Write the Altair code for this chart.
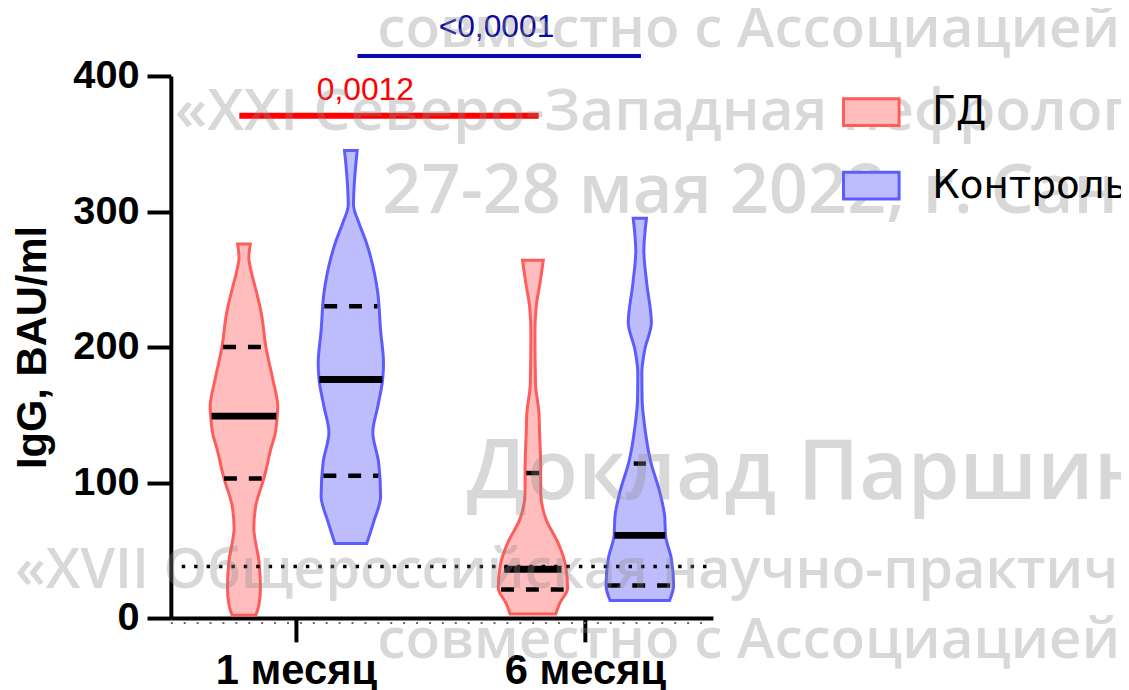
import altair as alt
import pandas as pd

# ---------------- data ----------------
MONTHS = ["1 месяц", "6 месяц"]
GROUPS = ["ГД", "Контроль"]
Y_TITLE = "IgG, BAU/ml"
Y_TICKS = [0, 100, 200, 300, 400]

# violin outlines: IgG level and half-width (in units of the spacing between months)
GD1_LEVEL = [276, 266, 255, 245, 225, 200, 176, 156, 149, 135, 127, 103, 83, 66, 55, 42, 22, 10, 2]
GD1_HALF = [.022, .017, .026, .038, .060, .076, .100, .117, .115, .107, .096, .069, .041, .034, .041, .052, .057, .052, .041]

K1_LEVEL = [345, 327, 305, 291, 278, 266, 254, 240, 212, 188, 176, 156, 137, 115, 90, 71, 55]
K1_HALF = [.022, .014, .009, .029, .052, .069, .082, .093, .103, .113, .110, .093, .076, .096, .103, .079, .055]

GD6_LEVEL = [264, 249, 229, 210, 173, 151, 137, 112, 93, 73, 56, 39, 22, 11, 3]
GD6_HALF = [.036, .026, .011, .007, .009, .021, .023, .027, .027, .045, .086, .113, .120, .093, .079]

K6_LEVEL = [295, 271, 247, 218, 198, 181, 161, 141, 115, 93, 75, 61, 44, 24, 13]
K6_HALF = [.023, .014, .024, .040, .017, .007, .008, .017, .038, .069, .086, .089, .109, .117, .103]

# medians and quartiles: [1 месяц, 6 месяц] per group, with half-width of the line
MEDIAN = {"ГД": [149, 36], "Контроль": [176, 61]}
MEDIAN_HALF = {"ГД": [.112, .099], "Контроль": [.109, .088]}
Q1 = {"ГД": [103, 21], "Контроль": [105, 24]}
Q1_HALF = {"ГД": [.069, .110], "Контроль": [.095, .112]}
Q3 = {"ГД": [200, 107], "Контроль": [230, 114]}
Q3_HALF = {"ГД": [.072, .023], "Контроль": [.092, .021]}

THRESHOLD = 38

# significance bars
P_TEXT = ["0,0012", "<0,0001"]
P_LEVEL = [370.7, 414.7]
P_FROM = [0.804, 1.213]
P_TO = [1.840, 2.194]
P_TEXT_X = [1.240, 1.694]
P_TEXT_LEVEL = [382, 429]

WATERMARK = [
    "совместно с Ассоциацией",
    "«XXI Северо-Западная нефрологическая",
    "27-28 мая 2022, г. Санкт-Петербург",
    "Доклад Паршина",
    "«XVII Общероссийская научно-практическая",
    "совместно с Ассоциацией",
]

# ---------------- styling ----------------
FILLS = ["#ffbdbd", "#bdbdfd"]
STROKES = ["#ff5c5c", "#5c5cff"]
P_COLORS = ["#ff0000", "#0a0ab4"]
P_TEXT_COLORS = ["#ff0000", "#0a0aa0"]
P_WIDTHS = [6, 4]
OFFSET = {"ГД": -0.18, "Контроль": 0.19}
X_DOMAIN = [0.567, 2.443]
W, H = 546, 546

# ---------------- tables ----------------
violins = [
    ("ГД", 0, GD1_LEVEL, GD1_HALF),
    ("Контроль", 0, K1_LEVEL, K1_HALF),
    ("ГД", 1, GD6_LEVEL, GD6_HALF),
    ("Контроль", 1, K6_LEVEL, K6_HALF),
]
rows = []
for g, m, lev, half in violins:
    c = m + 1 + OFFSET[g]
    for v, h in zip(lev, half):
        rows.append({"group": g, "vid": f"{g}-{m}", "value": v, "xl": c - h, "xr": c + h})
vdf = pd.DataFrame(rows)

srows = []
for g in GROUPS:
    for m in range(2):
        c = m + 1 + OFFSET[g]
        srows.append({"kind": "median", "value": MEDIAN[g][m], "xl": c - MEDIAN_HALF[g][m], "xr": c + MEDIAN_HALF[g][m]})
        srows.append({"kind": "q", "value": Q1[g][m], "xl": c - Q1_HALF[g][m], "xr": c + Q1_HALF[g][m]})
        srows.append({"kind": "q", "value": Q3[g][m], "xl": c - Q3_HALF[g][m], "xr": c + Q3_HALF[g][m]})
sdf = pd.DataFrame(srows)

xs = alt.Scale(domain=X_DOMAIN, nice=False, zero=False)
ys = alt.Scale(domain=[0, 400], nice=False, zero=False)

label_expr = " : ".join(
    f"datum.value == {i + 1} ? '{name}'" for i, name in enumerate(MONTHS)
) + " : ''"

x_axis = alt.Axis(
    values=[1, 2], labelExpr=label_expr, title=None, grid=False,
    domainColor="black", domainWidth=4, tickColor="black", tickWidth=4, tickSize=24,
    labelFont="Liberation Sans", labelFontWeight="bold", labelFontSize=42,
    labelColor="black", labelPadding=9, labelFlush=False, labelOverlap=False,
)
y_axis = alt.Axis(
    values=Y_TICKS, title=Y_TITLE, grid=False,
    domainColor="black", domainWidth=4, tickColor="black", tickWidth=4, tickSize=24,
    labelFont="Liberation Sans", labelFontWeight="bold", labelFontSize=40,
    labelColor="black", labelPadding=8,
    titleFont="Liberation Sans", titleFontWeight="bold", titleFontSize=42,
    titleColor="black", titlePadding=18,
)

legend = alt.Legend(
    title=None, orient="none", legendX=676, legendY=7,
    symbolType="M-1,-0.48H1V0.48H-1Z", symbolSize=3136, symbolStrokeWidth=3,
    labelFont="DejaVu Sans", labelFontSize=39, labelColor="black", labelLimit=0,
    labelOffset=32, rowPadding=24, padding=0, symbolOpacity=1,
)

violin = alt.Chart(vdf).mark_area(
    orient="horizontal", interpolate="monotone", strokeWidth=3, fillOpacity=1, strokeOpacity=1
).encode(
    y=alt.Y("value:Q", scale=ys, axis=y_axis),
    x=alt.X("xl:Q", scale=xs, axis=x_axis),
    x2="xr:Q",
    fill=alt.Fill("group:N", scale=alt.Scale(domain=GROUPS, range=FILLS), legend=legend),
    stroke=alt.Stroke("group:N", scale=alt.Scale(domain=GROUPS, range=STROKES), legend=legend),
    detail="vid:N",
)

threshold = alt.Chart(pd.DataFrame({"value": [THRESHOLD]})).mark_rule(
    color="black", strokeWidth=3.5, strokeDash=[3.5, 9]
).encode(
    y=alt.Y("value:Q", scale=ys),
    x=alt.value(11), x2=alt.value(543),
)

minor = alt.Chart(pd.DataFrame({"value": [0]})).mark_rule(
    color="#666666", strokeWidth=2, strokeDash=[2, 11], yOffset=5
).encode(
    y=alt.Y("value:Q", scale=ys),
    x=alt.value(0), x2=alt.value(W),
)

medians = alt.Chart(sdf).transform_filter("datum.kind == 'median'").mark_rule(
    color="black", strokeWidth=7
).encode(
    y=alt.Y("value:Q", scale=ys),
    x=alt.X("xl:Q", scale=xs), x2="xr:Q",
)
quart = alt.Chart(sdf).transform_filter("datum.kind == 'q'").mark_rule(
    color="black", strokeWidth=4.5, strokeDash=[13, 12]
).encode(
    y=alt.Y("value:Q", scale=ys),
    x=alt.X("xl:Q", scale=xs), x2="xr:Q",
)

sig_layers = []
for i in range(len(P_TEXT)):
    bar = alt.Chart(pd.DataFrame({"value": [P_LEVEL[i]], "xl": [P_FROM[i]], "xr": [P_TO[i]]})).mark_rule(
        color=P_COLORS[i], strokeWidth=P_WIDTHS[i]
    ).encode(
        y=alt.Y("value:Q", scale=ys),
        x=alt.X("xl:Q", scale=xs), x2="xr:Q",
    )
    txt = alt.Chart(pd.DataFrame({"value": [P_TEXT_LEVEL[i]], "xl": [P_TEXT_X[i]], "t": [P_TEXT[i]]})).mark_text(
        color=P_TEXT_COLORS[i], font="Liberation Sans", fontSize=32, baseline="alphabetic", align="center"
    ).encode(
        y=alt.Y("value:Q", scale=ys),
        x=alt.X("xl:Q", scale=xs),
        text="t:N",
    )
    sig_layers += [bar, txt]

# watermark overlay (pixel placement relative to the plot area)
WM_LAYOUT = [(208, -29, 57), (4, 54, 59), (213, 138, 69), (298, 426, 84), (-157, 516, 56), (208, 586, 57)]
wm_layers = []
for s, (px, py, fs) in zip(WATERMARK, WM_LAYOUT):
    wm_layers.append(
        alt.Chart(pd.DataFrame({"t": [s]})).mark_text(
            font="Open Sans", fontWeight=600, fontSize=fs, color="#8c8c8c", opacity=0.33,
            align="left", baseline="alphabetic"
        ).encode(x=alt.value(px), y=alt.value(py), text="t:N")
    )

chart = alt.layer(violin, threshold, minor, medians, quart, *sig_layers, *wm_layers).properties(
    width=W, height=H, background="white",
    autosize=alt.AutoSizeParams(type="none"),
    padding={"left": 164, "top": 66, "right": 411, "bottom": 70},
).configure_view(stroke=None)

chart.save("out.html", embed_options={"renderer": "svg", "actions": False})
